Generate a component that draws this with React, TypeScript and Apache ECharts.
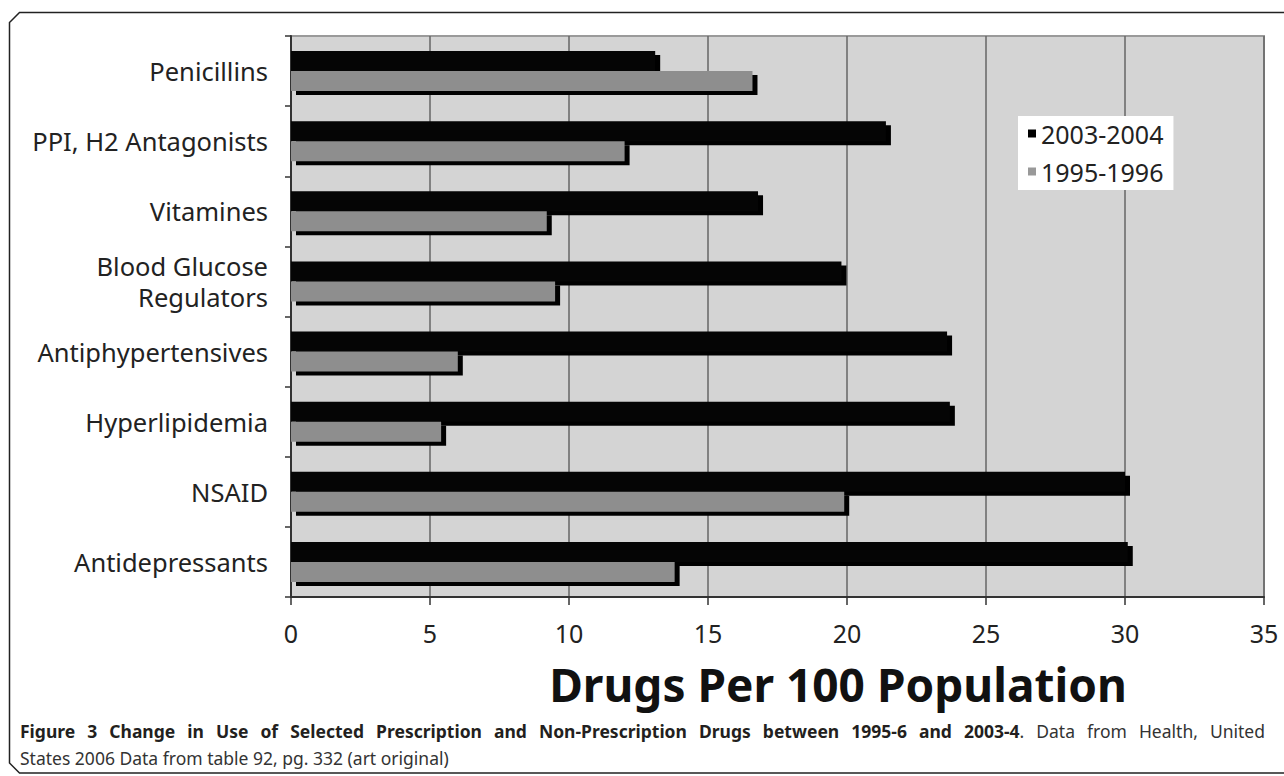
import React, { useEffect, useRef } from "react";
import * as echarts from "echarts";

const categories = [
  "Penicillins",
  "PPI, H2 Antagonists",
  "Vitamines",
  "Blood Glucose\nRegulators",
  "Antiphypertensives",
  "Hyperlipidemia",
  "NSAID",
  "Antidepressants",
];
const values2003 = [13.1, 21.4, 16.8, 19.8, 23.6, 23.7, 30.0, 30.1];
const values1995 = [16.6, 12.0, 9.2, 9.5, 6.0, 5.4, 19.9, 13.8];
const seriesNames = ["2003-2004", "1995-1996"];
const axisTitle = "Drugs Per 100 Population";
const captionBold =
  "Figure 3 Change in Use of Selected Prescription and Non-Prescription Drugs between 1995-6 and 2003-4";
const captionRest = ". Data from Health, United";
const captionLine2 = "States 2006 Data from table 92, pg. 332 (art original)";

const FONT = "'Noto Sans', 'Open Sans', sans-serif";
const CAP_SIZE = 17.5;

function makeRender(offset: number, color: string) {
  return (params: any, api: any) => {
    const v = api.value(0);
    const i = api.value(1);
    const p0 = api.coord([0, i]);
    const p1 = api.coord([v, i]);
    const band = api.size([0, 1])[1];
    const h = band * 0.285;
    const y = p0[1] + offset * h;
    const w = p1[0] - p0[0];
    const dx = 5;
    const dy = 4;
    return {
      type: "group",
      children: [
        { type: "rect", shape: { x: p0[0] + dx, y: y + dy, width: w, height: h }, style: { fill: "#000" } },
        { type: "rect", shape: { x: p0[0], y, width: w, height: h }, style: { fill: color } },
      ],
    };
  };
}

function captionLine1Graphics(left: number, right: number, y: number) {
  const boldWords = captionBold.split(" ");
  const restWords = captionRest.trim().split(" ");
  const tokens: { text: string; bold: boolean }[][] = boldWords.map((w) => [{ text: w, bold: true }]);
  tokens[tokens.length - 1].push({ text: restWords[0], bold: false });
  for (let k = 1; k < restWords.length; k++) tokens.push([{ text: restWords[k], bold: false }]);
  const ctx = document.createElement("canvas").getContext("2d")!;
  const measure = (s: string, bold: boolean) => {
    ctx.font = `${bold ? "bold " : ""}${CAP_SIZE}px 'Noto Sans'`;
    return ctx.measureText(s).width;
  };
  const widths = tokens.map((t) => t.reduce((a, s) => a + measure(s.text, s.bold), 0));
  const total = widths.reduce((a, b) => a + b, 0);
  const gap = (right - left - total) / (tokens.length - 1);
  let x = left;
  const out: any[] = [];
  tokens.forEach((t, idx) => {
    const txt = t.map((s) => `{${s.bold ? "b" : "r"}|${s.text}}`).join("");
    out.push({
      type: "text",
      x,
      y,
      style: {
        text: txt,
        textAlign: "left",
        textVerticalAlign: "middle",
        rich: {
          b: { fontFamily: FONT, fontSize: CAP_SIZE, fontWeight: "bold", fill: "#231f20" },
          r: { fontFamily: FONT, fontSize: CAP_SIZE, fill: "#333" },
        },
      },
    });
    x += widths[idx] + gap;
  });
  return out;
}

export default function App() {
  const ref = useRef<HTMLDivElement>(null);
  useEffect(() => {
    if (!ref.current) return;
    const chart = echarts.init(ref.current, null, { renderer: "svg" });
    chart.setOption({
      animation: false,
      backgroundColor: "#fff",
      grid: {
        left: 291,
        top: 36,
        width: 973,
        height: 561,
        show: true,
        backgroundColor: "#d4d4d4",
        borderColor: "#9a9a9a",
        borderWidth: 2,
      },
      legend: {
        data: seriesNames,
        orient: "vertical",
        left: 1018,
        top: 116,
        backgroundColor: "#fff",
        padding: [5, 10, 6, 10],
        itemGap: 13,
        itemWidth: 8,
        itemHeight: 8,
        icon: "rect",
        textStyle: { fontFamily: FONT, fontSize: 25, color: "#222" },
      },
      xAxis: {
        type: "value",
        min: 0,
        max: 35,
        interval: 5,
        axisLine: { show: true, lineStyle: { color: "#333", width: 2 } },
        axisTick: { show: true, length: 8, lineStyle: { color: "#333", width: 1.5 } },
        axisLabel: { fontFamily: FONT, fontSize: 25, color: "#222", margin: 23 },
        splitLine: { show: true, lineStyle: { color: "#666", width: 1.5 } },
      },
      yAxis: {
        type: "category",
        data: categories,
        inverse: true,
        axisLine: { show: true, lineStyle: { color: "#333", width: 2 } },
        axisTick: { show: true, length: 6, lineStyle: { color: "#333", width: 1.5 } },
        axisLabel: {
          fontFamily: FONT,
          fontSize: 25.5,
          color: "#222",
          margin: 23,
          lineHeight: 31,
          align: "right",
        },
        splitLine: { show: false },
      },
      series: [
        {
          name: seriesNames[0],
          type: "custom",
          itemStyle: { color: "#000" },
          encode: { x: 0, y: 1 },
          data: values2003.map((v, i) => [v, i]),
          renderItem: makeRender(-1, "#050505"),
        },
        {
          name: seriesNames[1],
          type: "custom",
          itemStyle: { color: "#999" },
          encode: { x: 0, y: 1 },
          data: values1995.map((v, i) => [v, i]),
          renderItem: makeRender(0, "#8e8e8e"),
        },
      ],
      graphic: [
        {
          type: "polyline",
          shape: {
            points: [
              [1290, 12.5],
              [19.5, 12.5],
              [9.5, 22.5],
              [9.5, 763],
              [19.5, 773],
              [1290, 773],
            ],
          },
          style: { fill: "none", stroke: "#222", lineWidth: 1.5 },
          silent: true,
        },
        {
          type: "text",
          x: 838,
          y: 684,
          style: {
            text: axisTitle,
            fontFamily: FONT,
            fontSize: 46,
            fontWeight: "bold",
            fill: "#111",
            textAlign: "center",
            textVerticalAlign: "middle",
          },
        },
        ...captionLine1Graphics(20, 1265, 731),
        {
          type: "text",
          x: 20,
          y: 758,
          style: {
            text: captionLine2,
            fontFamily: FONT,
            fontSize: CAP_SIZE,
            fill: "#333",
            textAlign: "left",
            textVerticalAlign: "middle",
          },
        },
      ],
    });
    return () => chart.dispose();
  }, []);
  return (
    <div
      ref={ref}
      style={{ position: "fixed", left: 0, top: 0, width: 1284, height: 776 }}
    />
  );
}
